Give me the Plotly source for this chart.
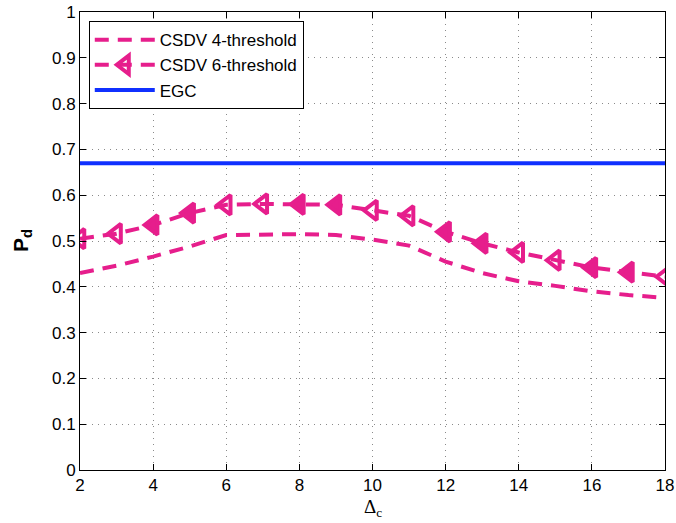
import plotly.graph_objects as go

delta_c = list(range(2, 19))
pd_csdv4 = [0.430, 0.446, 0.466, 0.488, 0.513, 0.515, 0.515, 0.513, 0.503, 0.490,
            0.455, 0.430, 0.412, 0.402, 0.390, 0.382, 0.376]
pd_csdv6 = [0.505, 0.516, 0.535, 0.561, 0.579, 0.581, 0.580, 0.579, 0.567, 0.555,
            0.520, 0.495, 0.475, 0.458, 0.442, 0.432, 0.422]
pd_egc = 0.670

magenta = "#E61E8C"
blue = "#1030FF"

# alternate solid/hollow triangles along the 6-threshold curve
symbols = ["triangle-left-open" if (i // 2) % 2 == 0 else "triangle-left"
           for i in range(len(delta_c))]

fig = go.Figure()
fig.add_trace(go.Scatter(
    x=delta_c, y=pd_csdv4, mode="lines", name="CSDV 4-threshold",
    line=dict(color=magenta, width=4, dash="14px,9px"),
))
fig.add_trace(go.Scatter(
    x=delta_c, y=pd_csdv6, mode="lines+markers", name="CSDV 6-threshold",
    line=dict(color=magenta, width=4, dash="14px,9px"),
    marker=dict(symbol=symbols, size=17, color=magenta,
                line=dict(color=magenta, width=4)),
))
fig.add_trace(go.Scatter(
    x=[delta_c[0], delta_c[-1]], y=[pd_egc, pd_egc], mode="lines", name="EGC",
    line=dict(color=blue, width=4),
))

axis_common = dict(
    showline=True, linecolor="black", linewidth=1, mirror="ticks",
    ticks="inside", ticklen=6, tickcolor="black",
    showgrid=True, gridcolor="#8a8a8a", griddash="1px,5px", gridwidth=1,
    zeroline=False, automargin=False,
    tickfont=dict(family="Liberation Sans, Arial", size=17, color="black"),
)

fig.update_layout(
    width=676, height=523,
    margin=dict(l=80, r=11, t=12, b=53),
    plot_bgcolor="white", paper_bgcolor="white",
    xaxis=dict(range=[2, 18], tickvals=list(range(2, 19, 2)), **axis_common),
    yaxis=dict(range=[0, 1], tickvals=[i / 10 for i in range(11)],
               ticktext=["0", "0.1", "0.2", "0.3", "0.4", "0.5", "0.6", "0.7", "0.8", "0.9", "1"],
               **axis_common),
    showlegend=True,
    legend=dict(x=0.015, y=0.98, xanchor="left", yanchor="top",
                bgcolor="white", bordercolor="black", borderwidth=1,
                font=dict(family="Liberation Sans, Arial", size=17, color="black"),
                tracegroupgap=0, itemwidth=60),
)

fig.add_annotation(text="Δ<sub>c</sub>", xref="paper", yref="paper", x=0.5, y=0,
                   yshift=-52, xanchor="center", yanchor="bottom", showarrow=False,
                   font=dict(family="Liberation Serif, Times New Roman", size=19, color="black"))
fig.add_annotation(text="<b>P<sub>d</sub></b>", xref="paper", yref="paper", x=0, y=0.5,
                   xshift=-58, textangle=-90, xanchor="center", yanchor="middle", showarrow=False,
                   font=dict(family="Liberation Sans, Arial", size=21, color="black"))

fig.write_html("out.html")
